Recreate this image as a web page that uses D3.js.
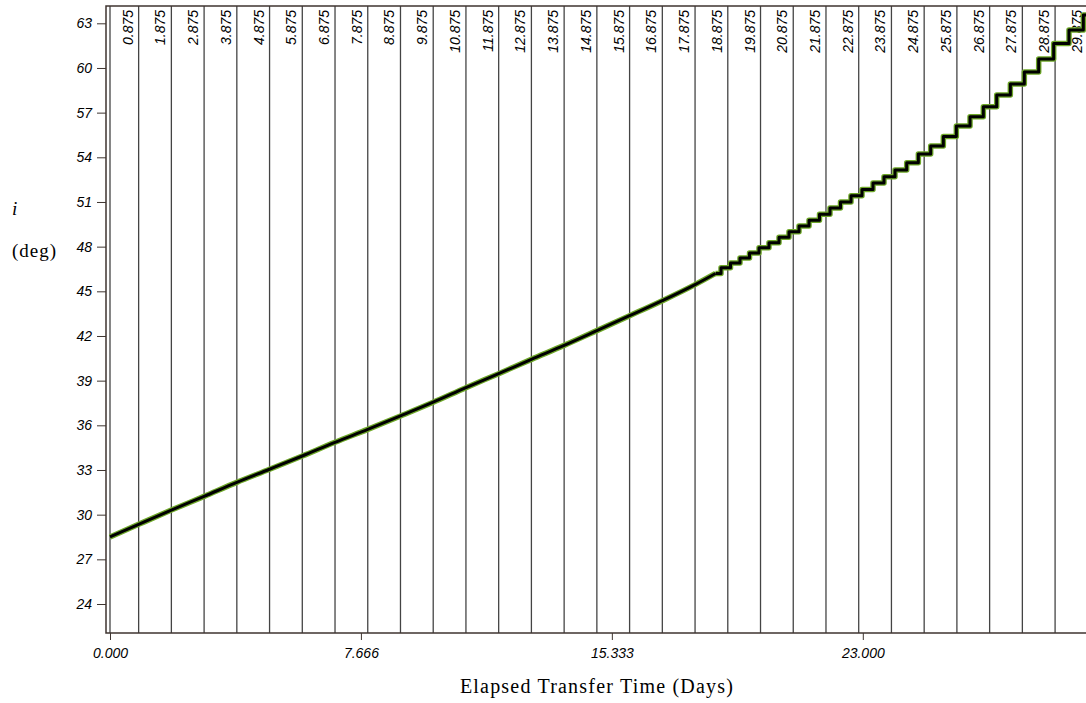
<!DOCTYPE html>
<html>
<head>
<meta charset="utf-8">
<script src="https://cdn.jsdelivr.net/npm/d3@7"></script>
<style>
  html, body { margin: 0; padding: 0; background: #fff; }
  svg { display: block; }
</style>
</head>
<body>
<div id="chart"></div>
<script>
// vertical marker lines (days)
const markerTimes = [0.875, 1.875, 2.875, 3.875, 4.875, 5.875, 6.875, 7.875, 8.875, 9.875,
  10.875, 11.875, 12.875, 13.875, 14.875, 15.875, 16.875, 17.875, 18.875, 19.875,
  20.875, 21.875, 22.875, 23.875, 24.875, 25.875, 26.875, 27.875, 28.875, 29.875];

const xTicks = [0, 7.666, 15.333, 23.0];
const yTicks = [24, 27, 30, 33, 36, 39, 42, 45, 48, 51, 54, 57, 60, 63];

// smooth part of the inclination history
const smoothTimes = [0, 0.875, 1.875, 2.875, 3.875, 4.875, 5.875, 6.875, 7.875, 8.875, 9.875,
  10.875, 11.875, 12.875, 13.875, 14.875, 15.875, 16.875, 17.875, 18.5];
const smoothValues = [28.50, 29.35, 30.31, 31.23, 32.17, 33.05, 33.94, 34.86, 35.73, 36.63, 37.55,
  38.53, 39.47, 40.43, 41.37, 42.36, 43.36, 44.37, 45.45, 46.20];

// stair-stepped part (step start time, level after the step)
const stepTimes = [18.50, 18.668, 18.958, 19.248, 19.539, 19.829, 20.134, 20.440, 20.745, 21.051,
  21.357, 21.677, 21.998, 22.319, 22.640, 22.976, 23.312, 23.648, 23.984, 24.341,
  24.697, 25.074, 25.461, 25.858, 26.276, 26.683, 27.091, 27.508, 27.935, 28.374,
  28.832, 29.300, 29.738, 29.90];
const stepValues = [46.20, 46.58, 46.90, 47.23, 47.57, 47.92, 48.27, 48.63, 49.00, 49.39,
  49.78, 50.18, 50.59, 51.00, 51.42, 51.84, 52.28, 52.70, 53.15, 53.64,
  54.22, 54.76, 55.39, 56.10, 56.73, 57.40, 58.18, 58.92, 59.73, 60.60,
  61.65, 62.55, 63.56, 63.56];

const width = 1086;
const height = 703;
const frame = { left: 106, top: 6, right: 1086, bottom: 633 };

const svg = d3.select('#chart')
  .append('svg')
  .attr('width', width)
  .attr('height', height);

const x = d3.scaleLinear().domain([0, 23]).range([110, 862.8]);
const y = d3.scaleLinear().domain([24, 63]).range([604, 23.3]);

svg.append('defs').append('clipPath')
  .attr('id', 'plot-clip')
  .append('rect')
  .attr('x', frame.left)
  .attr('y', frame.top)
  .attr('width', frame.right - frame.left)
  .attr('height', frame.bottom - frame.top);

// marker lines + rotated labels
const markers = svg.append('g');
markers.selectAll('line')
  .data([0].concat(markerTimes))
  .join('line')
  .attr('x1', d => x(d))
  .attr('x2', d => x(d))
  .attr('y1', frame.top)
  .attr('y2', frame.bottom)
  .attr('stroke', '#444')
  .attr('stroke-width', 1.3);

markers.selectAll('text')
  .data(markerTimes)
  .join('text')
  .attr('transform', d => `translate(${x(d) - 6}, 10) rotate(-90)`)
  .attr('text-anchor', 'end')
  .style('font-family', 'Liberation Sans, Arial, sans-serif')
  .style('font-style', 'italic')
  .style('font-size', '14px')
  .attr('fill', '#000')
  .text(d => d3.format('.3f')(d));

// frame
svg.append('path')
  .attr('d', `M${frame.right},${frame.top}H${frame.left}V${frame.bottom}H${frame.right}`)
  .attr('fill', 'none')
  .attr('stroke', '#3f3530')
  .attr('stroke-width', 1.5);

// y axis
const yAxis = svg.append('g')
  .attr('transform', `translate(${frame.left}, 0)`)
  .call(d3.axisLeft(y).tickValues(yTicks).tickSize(9).tickPadding(5).tickFormat(d3.format('d')));
yAxis.select('.domain').remove();
yAxis.selectAll('line').attr('stroke', '#3f3530');
yAxis.selectAll('text')
  .style('font-family', 'Liberation Sans, Arial, sans-serif')
  .style('font-style', 'italic')
  .style('font-size', '14px')
  .attr('fill', '#000');

// x axis
const xAxis = svg.append('g')
  .attr('transform', `translate(0, ${frame.bottom})`)
  .call(d3.axisBottom(x).tickValues(xTicks).tickSize(7).tickPadding(8).tickFormat(d3.format('.3f')));
xAxis.select('.domain').remove();
xAxis.selectAll('line').attr('stroke', '#3f3530');
xAxis.selectAll('text')
  .style('font-family', 'Liberation Sans, Arial, sans-serif')
  .style('font-style', 'italic')
  .style('font-size', '14px')
  .attr('fill', '#000');

// curve
const smoothData = smoothTimes.map((t, i) => ({ t: t, v: smoothValues[i] }));
const stepData = stepTimes.map((t, i) => ({ t: t, v: stepValues[i] }));

const smoothLine = d3.line().x(d => x(d.t)).y(d => y(d.v)).curve(d3.curveMonotoneX);
const stepLine = d3.line().x(d => x(d.t)).y(d => y(d.v)).curve(d3.curveStepAfter);

const curve = svg.append('g').attr('clip-path', 'url(#plot-clip)');
[[5.5, '#6fa82a'], [3, '#000']].forEach(([w, c]) => {
  curve.append('path')
    .datum(smoothData)
    .attr('d', smoothLine)
    .attr('fill', 'none')
    .attr('stroke', c)
    .attr('stroke-width', w)
    .attr('stroke-linejoin', 'round');
  curve.append('path')
    .datum(stepData)
    .attr('d', stepLine)
    .attr('fill', 'none')
    .attr('stroke', c)
    .attr('stroke-width', w)
    .attr('stroke-linejoin', 'round');
});

// titles
svg.append('text')
  .attr('x', 597)
  .attr('y', 693)
  .attr('text-anchor', 'middle')
  .style('font-family', 'Liberation Serif, Times New Roman, serif')
  .style('font-size', '20px')
  .style('letter-spacing', '1.2px')
  .text('Elapsed Transfer Time (Days)');

svg.append('text')
  .attr('x', 12)
  .attr('y', 215)
  .style('font-family', 'Liberation Serif, Times New Roman, serif')
  .style('font-style', 'italic')
  .style('font-size', '19px')
  .text('i');

svg.append('text')
  .attr('x', 12)
  .attr('y', 257)
  .style('font-family', 'Liberation Serif, Times New Roman, serif')
  .style('font-size', '19px')
  .style('letter-spacing', '1px')
  .text('(deg)');
</script>
</body>
</html>
